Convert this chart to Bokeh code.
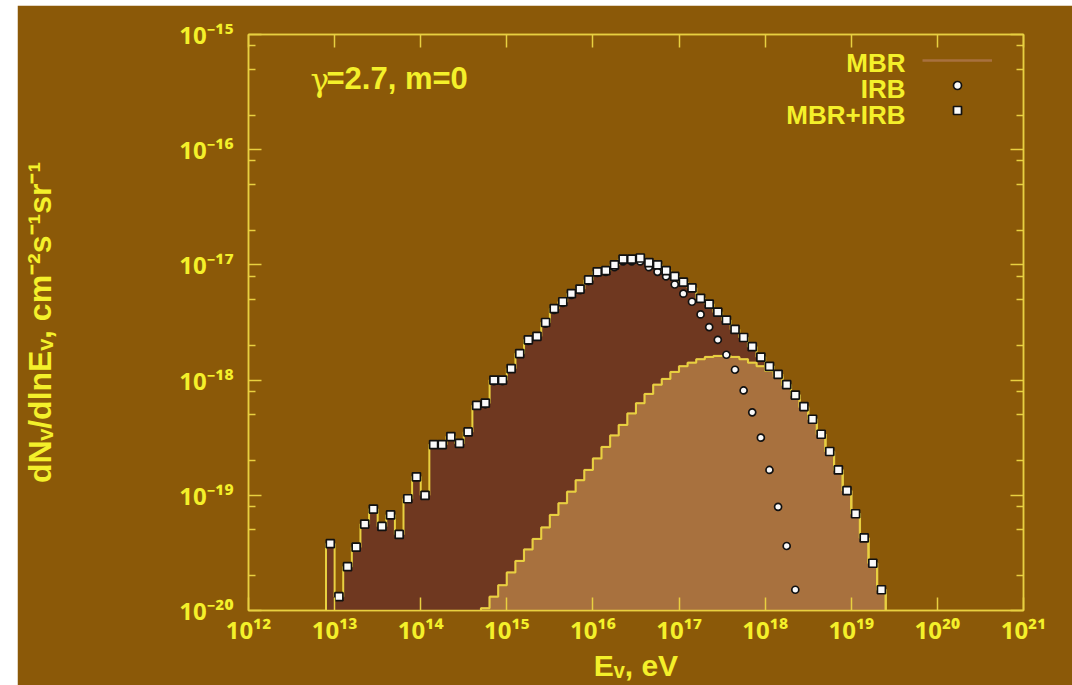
import numpy as np
from bokeh.plotting import figure
from bokeh.models import (LogAxis, FixedTicker, CustomJSTickFormatter, Label,
                          Legend, LegendItem, Range1d)
from bokeh.embed import file_html
from bokeh.resources import INLINE

# ---------------- data (log10 values) ----------------
# bins: 10 per decade in log10(E/eV)
bin_width = 0.1
total_first_edge = 12.9     # first bin of MBR+IRB starts at 10^12.9 eV
mbr_first_edge = 14.7       # first visible MBR bin

# MBR+IRB (squares, dark filled histogram), bins 12.9 ... 19.4
total_log = [-19.42, -19.88, -19.62, -19.45, -19.25, -19.12, -19.27, -19.17, -19.34, -19.03,
             -18.84, -19.00, -18.56, -18.56, -18.49, -18.55, -18.45, -18.22, -18.20, -18.00,
             -18.00, -17.90, -17.77, -17.65, -17.62, -17.50, -17.38, -17.32, -17.25, -17.21,
             -17.13, -17.06, -17.05, -17.00, -16.95, -16.95, -16.94, -16.98, -17.00, -17.05,
             -17.10, -17.15, -17.20, -17.29, -17.34, -17.41, -17.48, -17.56, -17.63, -17.71,
             -17.80, -17.88, -17.95, -18.04, -18.13, -18.23, -18.34, -18.47, -18.62, -18.78,
             -18.96, -19.16, -19.37, -19.59, -19.82]

# IRB (circles), same bins starting at 12.9
irb_log = [-19.42, -19.88, -19.62, -19.45, -19.25, -19.12, -19.27, -19.17, -19.34, -19.03,
           -18.84, -19.00, -18.56, -18.56, -18.49, -18.55, -18.45, -18.22, -18.21, -18.01,
           -18.01, -17.90, -17.77, -17.66, -17.62, -17.51, -17.39, -17.33, -17.26, -17.22,
           -17.14, -17.07, -17.06, -17.02, -16.97, -16.97, -16.97, -17.02, -17.06, -17.10,
           -17.17, -17.25, -17.32, -17.43, -17.54, -17.65, -17.78, -17.91, -18.09, -18.28,
           -18.50, -18.78, -19.10, -19.44, -19.82]

# MBR (light filled histogram), bins 14.7 ... 19.4
mbr_log = [-19.98, -19.88, -19.78, -19.67, -19.57, -19.47, -19.38, -19.28, -19.17, -19.07,
           -18.97, -18.87, -18.78, -18.68, -18.58, -18.48, -18.39, -18.29, -18.20, -18.12,
           -18.04, -17.99, -17.93, -17.88, -17.85, -17.82, -17.80, -17.79, -17.79, -17.80,
           -17.82, -17.85, -17.88, -17.92, -17.97, -18.05, -18.13, -18.24, -18.34, -18.47,
           -18.62, -18.78, -18.96, -19.16, -19.37, -19.59, -19.82]

x_tick_exp = [12, 13, 14, 15, 16, 17, 18, 19, 20, 21]
y_tick_exp = [-20, -19, -18, -17, -16, -15]
y_minor_mult = [2, 5, 8]

title_symbol = "γ"
title_rest = "=2.7, m=0"
legend_labels = ["MBR", "IRB", "MBR+IRB"]
x_label = "Eᵥ, eV"
y_label = "dNᵥ/dlnEᵥ, cm⁻²s⁻¹sr⁻¹"

# ---------------- styling ----------------
BG = "#8B5908"
DARK = "#6F3820"
TAN = "#A8713E"
TXT = "#F4F02A"
LINE_Y = "#E8D040"
FONT = "Liberation Sans"
TICK_FONT = "Noto Sans"

x_lo, x_hi = 10.0 ** x_tick_exp[0], 10.0 ** x_tick_exp[-1]
y_lo, y_hi = 10.0 ** y_tick_exp[0], 10.0 ** y_tick_exp[-1]

def edges(first, n):
    return np.round(first + bin_width * np.arange(n + 1), 3)

tot_e = edges(total_first_edge, len(total_log))
mbr_e = edges(mbr_first_edge, len(mbr_log))
tot_c = (tot_e[:-1] + tot_e[1:]) / 2

tot_v = 10.0 ** np.array(total_log)
mbr_v = 10.0 ** np.array(mbr_log)
irb_v = 10.0 ** np.array(irb_log)

def step_outline(e, v):
    xs = 10.0 ** np.concatenate([[e[0]], e, [e[-1]]])
    ys = np.concatenate([[y_lo], v, [v[-1]], [y_lo]])
    return xs, ys

p = figure(width=1055, height=680, x_axis_type="log", y_axis_type="log",
           x_range=Range1d(x_lo, x_hi), y_range=Range1d(y_lo, y_hi),
           output_backend="svg", toolbar_location=None,
           min_border_left=231, min_border_right=49, min_border_top=29, min_border_bottom=75)
p.styles = {"margin-left": "17px", "margin-top": "5px"}
p.background_fill_color = BG
p.border_fill_color = BG
p.outline_line_color = LINE_Y
p.outline_line_width = 1.5
p.xgrid.visible = False
p.ygrid.visible = False

xt = FixedTicker(ticks=[10.0 ** k for k in x_tick_exp], minor_ticks=[])
yt = FixedTicker(ticks=[10.0 ** k for k in y_tick_exp],
                 minor_ticks=[m * 10.0 ** k for k in y_tick_exp[:-1] for m in y_minor_mult])

sup_fmt = CustomJSTickFormatter(code="""
const sup = {"-": "\u207b", "0": "\u2070", "1": "\u00b9", "2": "\u00b2", "3": "\u00b3",
             "4": "\u2074", "5": "\u2075", "6": "\u2076", "7": "\u2077", "8": "\u2078", "9": "\u2079"};
const e = Math.round(Math.log10(tick));
return "10" + String(e).split("").map(c => sup[c]).join("");
""")
blank_fmt = CustomJSTickFormatter(code="return ''")

def style_axis(ax, ticker, fmt):
    ax.ticker = ticker
    ax.formatter = fmt
    ax.axis_line_color = LINE_Y
    ax.axis_line_width = 1.5
    ax.major_tick_line_color = LINE_Y
    ax.minor_tick_line_color = LINE_Y
    ax.major_tick_line_width = 1.5
    ax.minor_tick_line_width = 1.5
    ax.major_tick_in = 13
    ax.major_tick_out = 0
    ax.minor_tick_in = 7
    ax.minor_tick_out = 0
    ax.major_label_text_font = TICK_FONT
    ax.major_label_text_font_style = "bold"
    ax.major_label_text_font_size = "24px"
    ax.major_label_text_color = TXT
    ax.axis_label_text_font = FONT
    ax.axis_label_text_font_style = "bold"
    ax.axis_label_text_color = TXT

xa = p.xaxis[0]
style_axis(xa, xt, sup_fmt)
xa.major_label_standoff = 2
xa.axis_label = x_label
xa.axis_label_text_font_size = "30px"
xa.axis_label_standoff = 0

ya = p.yaxis[0]
style_axis(ya, yt, sup_fmt)
ya.major_label_standoff = 15
ya.axis_label = y_label
ya.axis_label_text_font_size = "32px"
ya.axis_label_standoff = 118

top_ax = LogAxis()
style_axis(top_ax, xt, blank_fmt)
top_ax.major_label_standoff = 0
p.add_layout(top_ax, "above")
right_ax = LogAxis()
style_axis(right_ax, yt, blank_fmt)
right_ax.major_label_standoff = 0
p.add_layout(right_ax, "right")

# filled histograms
p.varea_step(x=10.0 ** tot_e, y1=np.full(len(tot_e), y_lo), y2=np.append(tot_v, tot_v[-1]),
             step_mode="after", fill_color=DARK)
p.varea_step(x=10.0 ** mbr_e, y1=np.full(len(mbr_e), y_lo), y2=np.append(mbr_v, mbr_v[-1]),
             step_mode="after", fill_color=TAN)

mx, my = step_outline(mbr_e, mbr_v)
mbr_line = p.step(mx, my, mode="after", line_color=TAN, line_width=2.5)
p.step(mx, my, mode="after", line_color=LINE_Y, line_width=2)
tx, ty = step_outline(tot_e, tot_v)
p.step(tx, ty, mode="after", line_color=LINE_Y, line_width=2)

irb_r = p.scatter(10.0 ** tot_c[:len(irb_v)], irb_v, marker="circle", size=7,
                  fill_color="#FAFAFA", line_color="#111111", line_width=1.7)
tot_r = p.scatter(10.0 ** tot_c, tot_v, marker="square", size=8,
                  fill_color="#FAFAFA", line_color="#111111", line_width=1.7)

# legend: glyph samples via Legend (blank labels), texts right-aligned to their left
legend = Legend(items=[LegendItem(label=" ", renderers=[mbr_line]),
                       LegendItem(label=" ", renderers=[irb_r]),
                       LegendItem(label=" ", renderers=[tot_r])],
                location=(674, 490), orientation="vertical",
                glyph_width=70, glyph_height=20, label_height=20, label_standoff=0,
                label_text_font_size="8px", label_width=1,
                spacing=5, padding=0, margin=0,
                background_fill_alpha=0, border_line_alpha=0)
p.add_layout(legend)

def lab(x, y, text, xo, yo, size, align="left", font=FONT, style="bold"):
    p.add_layout(Label(x=x, y=y, text=text, x_offset=xo, y_offset=yo,
                       text_align=align, text_baseline="alphabetic", text_font=font,
                       text_font_style=style, text_font_size=size, text_color=TXT))

for i, t in enumerate(legend_labels):
    lab(x_hi, y_hi, t, -118, -28 - 26 * i, "26px", align="right")

# title inside plot
lab(x_lo, y_hi, title_symbol, 62, -45, "31px", font="DejaVu Serif", style="normal")
lab(x_lo, y_hi, title_rest, 78, -44, "31px")

open("out.html", "w", encoding="utf-8").write(file_html(p, INLINE))
